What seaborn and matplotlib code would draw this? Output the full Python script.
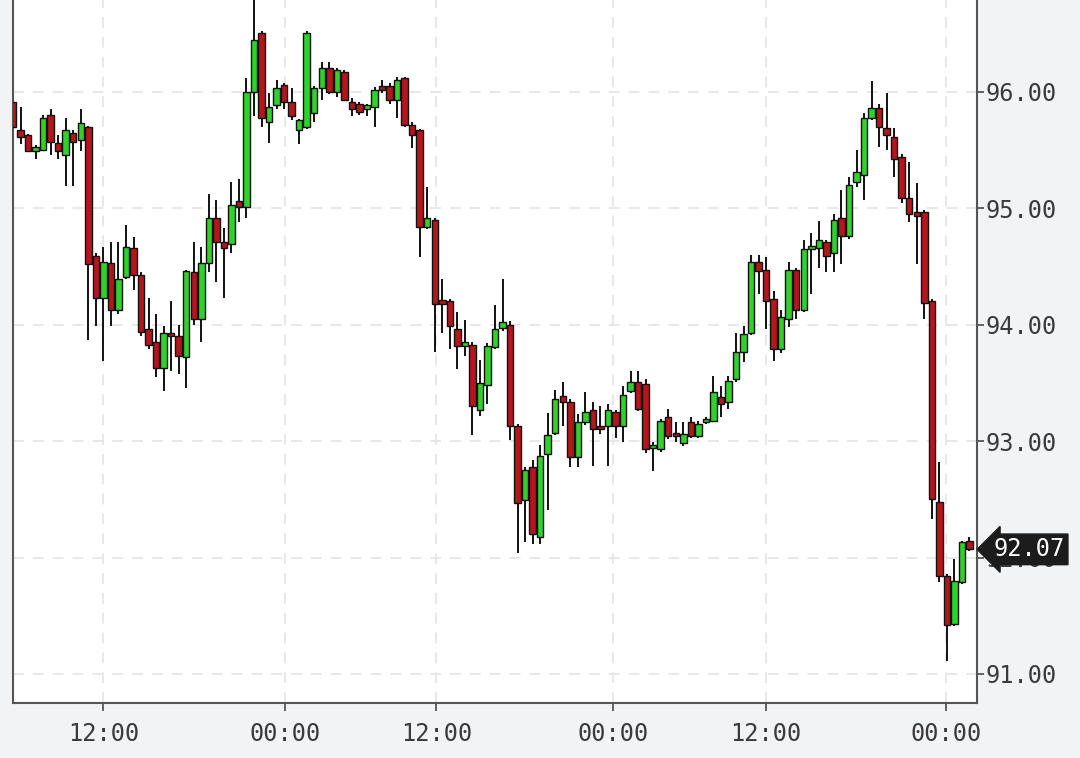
import matplotlib
matplotlib.use('Agg')
import matplotlib.pyplot as plt
import matplotlib.transforms as mtransforms
import numpy as np
import pandas as pd
import seaborn as sns

# OHLC values, one candle per entry
opens = [95.91, 95.67, 95.63, 95.49, 95.50, 95.80, 95.56, 95.46, 95.65, 95.59,
         95.70, 94.59, 94.23, 94.53, 94.13, 94.41, 94.66, 94.43, 93.96, 93.85,
         93.63, 93.92, 93.90, 93.72, 94.45, 94.05, 94.53, 94.92, 94.71, 94.69,
         95.06, 95.01, 96.00, 96.51, 95.74, 95.89, 96.06, 95.91, 95.67, 95.70,
         95.82, 96.03, 96.21, 96.00, 96.17, 95.91, 95.90, 95.85, 95.87, 96.04,
         96.05, 95.93, 96.12, 95.72, 95.67, 94.84, 94.90, 94.19, 94.20, 93.96,
         93.82, 93.83, 93.27, 93.48, 93.81, 93.97, 94.00, 93.13, 92.49, 92.78,
         92.18, 92.89, 93.07, 93.39, 93.34, 92.86, 93.16, 93.27, 93.12, 93.13,
         93.25, 93.13, 93.43, 93.51, 93.49, 92.94, 92.93, 93.21, 93.05, 92.98,
         93.16, 93.04, 93.16, 93.17, 93.38, 93.34, 93.53, 93.77, 93.93, 94.54,
         94.47, 94.22, 93.79, 94.05, 94.47, 94.13, 94.65, 94.66, 94.71, 94.62,
         94.92, 94.76, 95.23, 95.29, 95.78, 95.86, 95.69, 95.61, 95.44, 95.09,
         94.97, 94.97, 94.20, 92.48, 91.84, 91.43, 91.79, 92.14]
highs = [95.95, 95.87, 95.64, 95.54, 95.80, 95.85, 95.63, 95.78, 95.67, 95.85,
         95.71, 94.62, 94.67, 94.71, 94.71, 94.86, 94.75, 94.45, 94.23, 94.09,
         93.99, 94.20, 94.00, 94.47, 94.71, 94.67, 95.12, 95.07, 94.83, 95.23,
         95.25, 96.12, 96.85, 96.52, 95.99, 96.10, 96.08, 96.03, 95.77, 96.52,
         96.05, 96.26, 96.26, 96.21, 96.19, 95.95, 95.91, 95.90, 96.04, 96.10,
         96.08, 96.13, 96.13, 95.74, 95.68, 95.18, 94.92, 94.39, 94.22, 94.11,
         94.04, 93.85, 93.70, 93.84, 94.17, 94.39, 94.03, 93.15, 92.78, 92.84,
         92.97, 93.24, 93.44, 93.51, 93.36, 93.23, 93.42, 93.34, 93.30, 93.32,
         93.27, 93.47, 93.60, 93.60, 93.53, 92.99, 93.19, 93.28, 93.16, 93.16,
         93.21, 93.17, 93.21, 93.56, 93.47, 93.56, 93.93, 93.99, 94.60, 94.60,
         94.58, 94.29, 94.13, 94.54, 94.49, 94.73, 94.79, 94.89, 94.73, 94.95,
         95.16, 95.27, 95.50, 95.82, 96.09, 95.90, 95.99, 95.69, 95.47, 95.40,
         95.22, 94.99, 94.22, 92.82, 91.86, 91.99, 92.14, 92.18]
lows = [95.68, 95.55, 95.48, 95.42, 95.49, 95.46, 95.42, 95.19, 95.19, 95.49,
        93.87, 93.99, 93.69, 93.99, 94.09, 94.39, 94.30, 93.90, 93.79, 93.55,
        93.43, 93.60, 93.58, 93.46, 94.00, 93.85, 94.45, 94.37, 94.23, 94.62,
        94.88, 94.92, 95.79, 95.70, 95.56, 95.85, 95.85, 95.76, 95.55, 95.68,
        95.74, 95.93, 95.98, 95.96, 95.92, 95.79, 95.80, 95.79, 95.70, 95.99,
        95.90, 95.78, 95.70, 95.52, 94.58, 94.82, 93.77, 93.93, 93.79, 93.62,
        93.73, 93.05, 93.22, 93.32, 93.79, 93.95, 93.01, 92.04, 92.13, 92.12,
        92.12, 92.41, 93.05, 93.13, 92.78, 92.78, 93.14, 92.79, 93.06, 92.79,
        93.03, 92.99, 93.41, 93.26, 92.90, 92.74, 92.91, 93.02, 92.99, 92.96,
        93.03, 93.03, 93.15, 93.16, 93.21, 93.28, 93.51, 93.68, 93.91, 94.26,
        93.96, 93.69, 93.76, 93.98, 94.05, 94.11, 94.26, 94.49, 94.45, 94.45,
        94.52, 94.74, 95.18, 95.07, 95.76, 95.53, 95.50, 95.27, 95.05, 94.88,
        94.52, 94.05, 92.33, 91.79, 91.11, 91.41, 91.77, 92.06]
closes = [95.70, 95.61, 95.49, 95.53, 95.78, 95.57, 95.49, 95.67, 95.57, 95.73,
          94.52, 94.23, 94.54, 94.13, 94.39, 94.67, 94.43, 93.94, 93.83, 93.63,
          93.93, 93.90, 93.73, 94.46, 94.05, 94.53, 94.92, 94.71, 94.66, 95.03,
          95.01, 96.00, 96.45, 95.78, 95.87, 96.03, 95.91, 95.79, 95.76, 96.51,
          96.03, 96.21, 96.00, 96.19, 95.93, 95.85, 95.83, 95.89, 96.02, 96.02,
          95.93, 96.10, 95.72, 95.63, 94.84, 94.92, 94.18, 94.18, 93.99, 93.82,
          93.85, 93.30, 93.50, 93.82, 93.96, 94.02, 93.13, 92.47, 92.75, 92.20,
          92.87, 93.05, 93.36, 93.34, 92.86, 93.16, 93.25, 93.10, 93.10, 93.27,
          93.13, 93.40, 93.51, 93.28, 92.93, 92.95, 93.17, 93.04, 93.04, 93.06,
          93.04, 93.15, 93.19, 93.42, 93.32, 93.52, 93.77, 93.92, 94.54, 94.46,
          94.20, 93.79, 94.07, 94.47, 94.13, 94.65, 94.67, 94.73, 94.59, 94.90,
          94.76, 95.20, 95.31, 95.78, 95.86, 95.70, 95.63, 95.42, 95.09, 94.95,
          94.93, 94.19, 92.50, 91.84, 91.42, 91.80, 92.13, 92.07]

# x tick positions (in candle index) and their labels
tick_pos = [12, 36.1, 56.2, 79.7, 100, 123.9]
tick_labels = ['12:00', '00:00', '12:00', '00:00', '12:00', '00:00']
price_ticks = [91, 92, 93, 94, 95, 96]
last_price = 92.07

df = pd.DataFrame({'open': opens, 'high': highs, 'low': lows, 'close': closes})
df['idx'] = np.arange(len(df))
df['up'] = df['close'] >= df['open']

sns.set_theme(style='white')
plt.rcParams['font.family'] = ['DejaVu Sans Mono', 'DejaVu Sans']

green = '#30d12b'
red = '#b3161b'
ink = '#111111'

fig = plt.figure(figsize=(10.8, 7.58), dpi=100, facecolor='#f2f3f5')
ax = fig.add_axes([13 / 1080, 55 / 758, 964 / 1080, 703 / 758])
ax.set_facecolor('white')

# wicks
ax.vlines(df['idx'], df['low'], df['high'], color=ink, linewidth=1.4, zorder=2)

# bodies
body_bottom = np.minimum(df['open'], df['close'])
body_height = (df['close'] - df['open']).abs().clip(lower=0.03)
ax.bar(df['idx'], body_height, bottom=body_bottom, width=0.86,
       color=np.where(df['up'], green, red), edgecolor=ink, linewidth=1.0,
       zorder=3)

ax.set_xlim(0, 128)
ax.set_ylim(90.75, 96.79)

# grid
ax.set_axisbelow(True)
ax.grid(True, color='#e6e6e6', linestyle=(0, (6, 5)), linewidth=1.3)

ax.set_xticks(tick_pos)
ax.set_xticklabels(tick_labels)
ax.set_yticks(price_ticks)
ax.set_yticklabels([f'{p:.2f}' for p in price_ticks])
ax.yaxis.tick_right()
ax.tick_params(axis='y', which='both', right=True, left=False, length=5,
               width=1.3, color='#555555', pad=1, labelsize=17,
               labelcolor='#3a3a3a')
ax.tick_params(axis='x', bottom=True, length=6, width=1.3, color='#555555',
               pad=8, labelsize=17, labelcolor='#3a3a3a')

for side in ['left', 'bottom', 'right']:
    ax.spines[side].set_visible(True)
    ax.spines[side].set_color('#555555')
    ax.spines[side].set_linewidth(1.5)
ax.spines['top'].set_visible(False)

# last price marker on the right axis
trans = mtransforms.blended_transform_factory(ax.transAxes, ax.transData)
ax.text(1.017, last_price, f'{last_price:.2f}', transform=trans, ha='left',
        va='center', fontsize=17, color='white', zorder=10, clip_on=False,
        bbox=dict(boxstyle='larrow,pad=0.14', fc='#1c1c1c', ec='#1c1c1c'))

fig.savefig('out.png', dpi=100, facecolor=fig.get_facecolor())
